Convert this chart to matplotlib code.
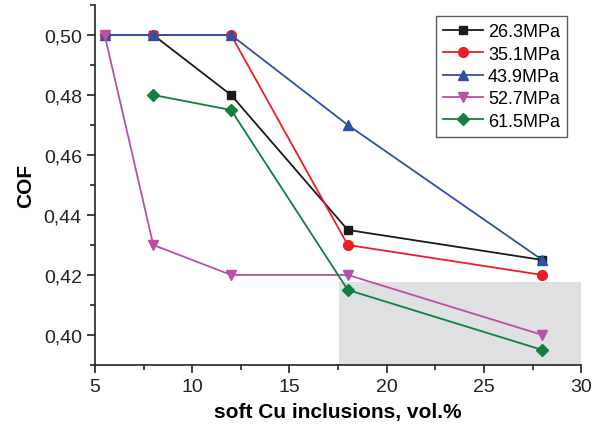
import matplotlib.pyplot as plt
from matplotlib.patches import Rectangle
from matplotlib.ticker import MultipleLocator, FuncFormatter

plt.rcParams['font.family'] = ['Liberation Sans', 'DejaVu Sans']

x_vals = [5.5, 8, 12, 18, 28]
cof_263 = [0.50, 0.50, 0.48, 0.435, 0.425]
cof_351 = [0.50, 0.50, 0.50, 0.43, 0.42]
cof_439 = [0.50, 0.50, 0.50, 0.47, 0.425]
cof_527 = [0.50, 0.43, 0.42, 0.42, 0.40]
x_615 = [8, 12, 18, 28]
cof_615 = [0.48, 0.475, 0.415, 0.395]

fig = plt.figure(figsize=(6.01, 4.31), dpi=100)
ax = fig.add_axes([0.158, 0.151, 0.809, 0.835])

# shaded region
ax.add_patch(Rectangle((17.55, 0.39), 30 - 17.55, 0.4177 - 0.39,
                       facecolor='#dfe0e2', edgecolor='none', zorder=0))

ax.plot(x_vals, cof_263, color='#1a1a1a', marker='s', ms=6, lw=1.3, label='26.3MPa')
ax.plot(x_vals, cof_351, color='#ee1c25', marker='o', ms=7, lw=1.3, label='35.1MPa')
ax.plot(x_vals, cof_439, color='#3050a8', marker='^', ms=7, lw=1.3, label='43.9MPa')
ax.plot(x_vals, cof_527, color='#b84fa8', marker='v', ms=7, lw=1.3, label='52.7MPa')
ax.plot(x_615, cof_615, color='#0f8040', marker='D', ms=6, lw=1.3, label='61.5MPa')

ax.set_xlim(5, 30)
ax.set_ylim(0.39, 0.51)
ax.xaxis.set_major_locator(MultipleLocator(5))
ax.xaxis.set_minor_locator(MultipleLocator(2.5))
ax.yaxis.set_major_locator(MultipleLocator(0.02))
ax.yaxis.set_minor_locator(MultipleLocator(0.01))
ax.yaxis.set_major_formatter(FuncFormatter(lambda v, p: f'{v:.2f}'.replace('.', ',')))

for s in ['top', 'right']:
    ax.spines[s].set_visible(False)
for s in ['left', 'bottom']:
    ax.spines[s].set_linewidth(1.2)
    ax.spines[s].set_color('#222222')
ax.tick_params(which='major', direction='out', length=6, width=1.2, labelsize=14, colors='#222222')
ax.tick_params(which='minor', direction='out', length=3.5, width=1.2, colors='#222222')

ax.set_xlabel('soft Cu inclusions, vol.%', fontsize=15, fontweight='bold', labelpad=5)
ax.set_ylabel('COF', fontsize=15, fontweight='bold', labelpad=6)

leg = ax.legend(loc='upper right', bbox_to_anchor=(0.99, 0.995), fontsize=13,
                frameon=True, fancybox=False, edgecolor='#333333',
                handlelength=2.2, labelspacing=0.3, borderpad=0.4, handletextpad=0.3)
leg.get_frame().set_linewidth(1.0)

fig.savefig('out.png', dpi=100)
